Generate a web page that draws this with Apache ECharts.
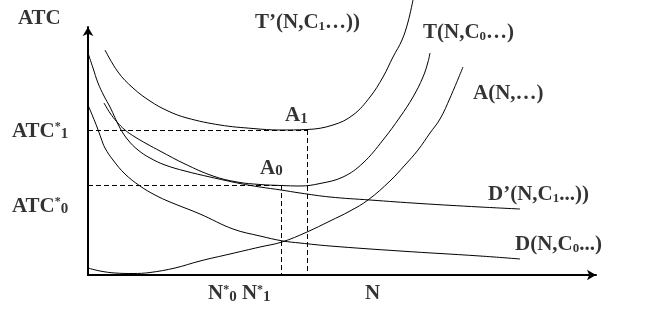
<!DOCTYPE html>
<html>
<head>
<meta charset="utf-8">
<script src="https://cdn.jsdelivr.net/npm/echarts@6/dist/echarts.min.js"></script>
<style>
  html, body { margin: 0; background: #fff; }
  #chart { width: 661px; height: 322px; }
</style>
</head>
<body>
<div id="chart"></div>
<script>
// cost curves, [N, ATC] in arbitrary units (origin at the axes corner)
const tPrimeCurve = [[17, 225], [30, 203], [45, 187], [62, 174], [80, 164], [99, 157], [132, 150], [165, 146.5], [192, 145], [219, 145.5], [245, 150], [265, 160], [282, 178], [295, 198], [305, 218], [314, 235], [320, 253], [325, 275]]
const tCurve = [[16, 172], [22, 162], [29, 153], [37, 145], [47, 138], [59, 131], [72, 124], [97, 111], [125, 99], [149, 93], [172, 90.5], [193, 89.5], [212, 89], [232, 91.5], [255, 98], [275, 112], [295, 135], [312, 158], [325, 178], [335, 198], [340, 213], [342, 222]]
const aCurve = [[0, 7], [12, 4], [27, 2], [45, 1.5], [62, 2.5], [87, 7], [112, 14], [142, 21], [172, 28], [194, 33], [219, 43], [242, 54], [262, 64], [280, 75], [302, 94], [317, 110], [330, 125], [342, 142], [352, 156], [362, 177], [375, 208]]
const dPrimeCurve = [[0, 222], [5, 207], [10, 192], [16, 179], [22, 168], [32, 147], [40, 135], [50, 125], [62, 117], [77, 110], [97, 104], [122, 98], [152, 91.5], [172, 88], [193, 85], [212, 82], [242, 78], [282, 75], [332, 71.5], [392, 68], [432, 66]]
const dCurve = [[0, 170], [5, 158], [9, 148], [13, 137], [17, 127], [25, 115], [37, 101], [52, 89], [67, 80], [82, 73], [112, 61], [145, 46], [172, 39], [195, 34], [212, 32], [242, 29], [312, 24], [392, 19], [432, 16]]

const atcStar = [90, 145]   // ATC*0, ATC*1
const nStar = [193, 219]    // N*0, N*1

// text annotations: [N, ATC, rich text]
const labels = [
  [-70, 256, '{b|ATC}'],
  [-76, 143.5, '{b|ATC}{p|*}{s2|1}'],
  [-76, 68.5, '{b|ATC}{p|*}{s2|0}'],
  [120, -19, '{b|N}{p|*}{s2|0}{b| N}{p|*}{s2|1}'],
  [277, -18.5, '{b|N}'],
  [197, 159, '{b|A}{s2|1}'],
  [172, 106.5, '{b|A}{s2|0}'],
  [167, 252, '{b|T’(N,C}{s|1}{b|…))}'],
  [335, 242, '{b|T(N,C}{s|0}{b|…)}'],
  [385, 181.5, '{b|A(N,…)}'],
  [400, 80, '{b|D’(N,C}{s|1}{b|...))}'],
  [427, 30, '{b|D(N,C}{s|0}{b|...)}']
]

const FONT = '"Liberation Serif", "Times New Roman", serif'

const chart = echarts.init(document.getElementById('chart'))

const curveSeries = [tPrimeCurve, tCurve, aCurve, dPrimeCurve, dCurve].map(c => ({
  type: 'line',
  data: c,
  smooth: 0.4,
  symbol: 'none',
  clip: false,
  silent: true,
  lineStyle: { color: '#000', width: 1 }
}))

// dashed guides at the two equilibria
curveSeries[4].markLine = {
  symbol: 'none',
  silent: true,
  animation: false,
  label: { show: false },
  lineStyle: { color: '#000', width: 1, type: [5, 3] },
  data: [
    [{ coord: [0, atcStar[1]] }, { coord: [nStar[1], atcStar[1]] }],
    [{ coord: [nStar[1], atcStar[1]] }, { coord: [nStar[1], 0] }],
    [{ coord: [0, atcStar[0]] }, { coord: [nStar[0], atcStar[0]] }],
    [{ coord: [nStar[0], atcStar[0]] }, { coord: [nStar[0], 0] }]
  ]
}

const txt = { fontFamily: FONT, fontWeight: 'bold', color: '#000', verticalAlign: 'bottom' }

chart.setOption({
  animation: false,
  backgroundColor: '#fff',
  grid: { left: 88, right: 65, top: 27, bottom: 47 },
  xAxis: {
    type: 'value', min: 0, max: 508,
    axisLine: { lineStyle: { color: '#000', width: 2 }, symbol: ['none', 'arrow'], symbolSize: [8, 9] },
    axisTick: { show: false }, axisLabel: { show: false }, splitLine: { show: false }
  },
  yAxis: {
    type: 'value', min: 0, max: 248,
    axisLine: { lineStyle: { color: '#000', width: 2 }, symbol: ['none', 'arrow'], symbolSize: [8, 9] },
    axisTick: { show: false }, axisLabel: { show: false }, splitLine: { show: false }
  },
  series: curveSeries.concat([{
    type: 'scatter',
    symbolSize: 0,
    clip: false,
    silent: true,
    data: labels.map(l => ({ value: [l[0], l[1]], label: { formatter: l[2] } })),
    label: {
      show: true,
      position: 'right',
      distance: 0,
      rich: {
        b: Object.assign({ fontSize: 21 }, txt),
        s: Object.assign({ fontSize: 13 }, txt),
        s2: Object.assign({ fontSize: 15 }, txt),
        p: Object.assign({}, txt, { fontSize: 12, verticalAlign: 'top' })
      }
    }
  }])
})
</script>
</body>
</html>
